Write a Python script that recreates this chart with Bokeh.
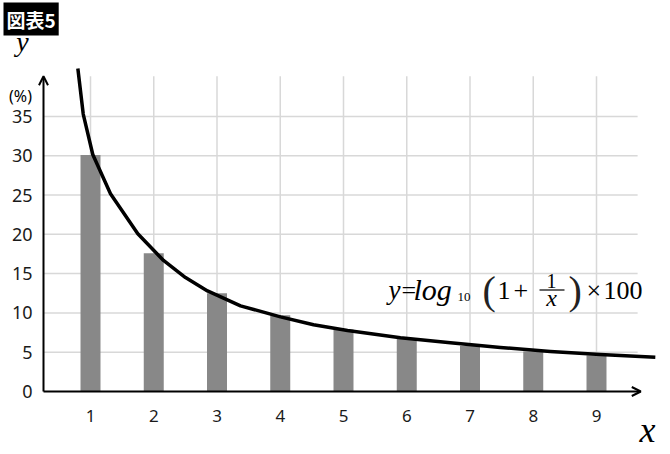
from bokeh.plotting import figure
from bokeh.models import Range1d, Label, Arrow, OpenHead
from bokeh.embed import file_html
from bokeh.resources import INLINE

# ---- data ----
digits = [1, 2, 3, 4, 5, 6, 7, 8, 9]
shares = [30.1, 17.6, 12.5, 9.7, 7.9, 6.7, 5.8, 5.1, 4.6]   # % (bars)
x_ticks = [1, 2, 3, 4, 5, 6, 7, 8, 9]
x_tick_labels = ["1", "2", "3", "4", "5", "6", "7", "8", "9"]
y_ticks = [0, 5, 10, 15, 20, 25, 30, 35]
y_tick_labels = ["0", "5", "10", "15", "20", "25", "30", "35"]
# curve y = log10(1 + 1/x) * 100
curve_x = [0.80, 0.885, 1.036, 1.316, 1.748, 2.154, 2.502, 2.85, 3.372,
           4.004, 4.526, 5.064, 5.90, 6.69, 7.48, 8.27, 9.06, 9.93]
curve_y = [41.1, 35.3, 30.15, 25.15, 20.06, 16.67, 14.5, 12.8, 10.9,
           9.5, 8.5, 7.75, 6.85, 6.2, 5.6, 5.1, 4.7, 4.35]
axis_x_max = 9.70
axis_y_max = 40.1
grid_x_max = 9.65

title_text = "図表5"
formula_parts = ["y", "=", "log", "10", "(", "1", "+", "1", "x", ")", "×", "100"]

# ---- layout helpers (reference-image pixel -> data) ----
SX = 63.25
SY = 7.86
def dx(px):
    return (px - 26.75) / SX
def dy(py):
    return (391 - py) / SY

W, H = 670, 454

p = figure(width=W, height=H, output_backend="svg", toolbar_location=None,
           x_range=Range1d(dx(0), dx(W)), y_range=Range1d(dy(H), dy(0)),
           min_border=0, min_border_left=0, min_border_right=0,
           min_border_top=0, min_border_bottom=0)
p.outline_line_color = None
p.background_fill_color = "white"
p.border_fill_color = "white"
p.xgrid.visible = False
p.ygrid.visible = False
p.xaxis.visible = False
p.yaxis.visible = False

# grid lines (limited extent)
x0_axis = dx(43)
gcol = "#d8d8d8"
p.segment(x0=x_ticks, y0=[0] * len(x_ticks), x1=x_ticks, y1=[axis_y_max] * len(x_ticks),
          line_color=gcol, line_width=1.5)
hy = y_ticks[1:]
p.segment(x0=[x0_axis] * len(hy), y0=hy, x1=[grid_x_max] * len(hy), y1=hy,
          line_color=gcol, line_width=1.5)

# bars
p.vbar(x=digits, top=shares, bottom=0, width=0.316, fill_color="#888888", line_color=None)

# curve
p.line(curve_x, curve_y, line_color="black", line_width=3.5, line_join="round")

# axes with arrows
p.add_layout(Arrow(end=OpenHead(size=9, line_width=2, line_color="black"),
                   x_start=x0_axis, y_start=0, x_end=x0_axis, y_end=axis_y_max,
                   line_width=2, line_color="black"))
p.add_layout(Arrow(end=OpenHead(size=9, line_width=2, line_color="black"),
                   x_start=x0_axis, y_start=0, x_end=axis_x_max, y_end=0,
                   line_width=2, line_color="black"))

# tick labels
p.text(x=[dx(32)] * len(y_ticks), y=y_ticks, text=y_tick_labels,
       text_align="right", text_baseline="middle", text_font_size="18px",
       text_font={"value": "Noto Sans"}, text_color="#1a1a1a")
p.text(x=x_ticks, y=[dy(415)] * len(x_ticks), text=x_tick_labels,
       text_align="center", text_baseline="middle", text_font_size="17px",
       text_font={"value": "Noto Sans"}, text_color="#1a1a1a")

def lab(text, px, py, size, font="Liberation Serif", style="normal",
        align="left", baseline="middle", color="black", **kw):
    p.add_layout(Label(x=dx(px), y=dy(py), text=text, text_font=font,
                       text_font_size=f"{size}px", text_font_style=style,
                       text_align=align, text_baseline=baseline,
                       text_color=color, **kw))

def labb(text, px, base, size, **kw):
    # position by glyph baseline, anchored at the em-box middle
    lab(text, px, base - 0.3 * size, size, **kw)

# axis titles
labb("y", 22, 49, 28, style="italic", align="center")
labb("x", 647, 440, 36, style="italic", align="center")
lab("(%)", 20, 95, 16, font="Noto Sans", align="center")

# title box
lab(title_text, 3, 2, 19, font="Noto Sans CJK JP", style="bold", baseline="top",
    color="white", background_fill_color="black", padding=3)

# formula
fp = formula_parts
labb(fp[0], 388, 298, 27, style="italic")
labb(fp[1], 401, 298, 26)
labb(fp[2], 413, 298, 30, style="italic")
labb(fp[3], 457, 300, 13)
labb(fp[4], 482, 302, 40, color="#222222")
labb(fp[5], 497, 298, 26)
labb(fp[6], 513, 298, 26)
labb(fp[7], 551, 286, 20, align="center")
p.segment(x0=[dx(539)], y0=[dy(289.5)], x1=[dx(564)], y1=[dy(289.5)],
          line_color="black", line_width=1.2)
labb(fp[8], 551, 305, 24, style="italic", align="center")
labb(fp[9], 568, 302, 40, color="#222222")
labb(fp[10], 586, 298, 26)
labb(fp[11], 603, 298, 26)

open("out.html", "w").write(file_html(p, INLINE))
